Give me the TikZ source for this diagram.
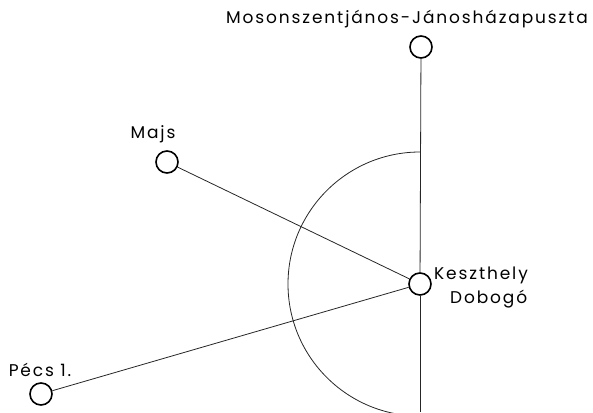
\documentclass[tikz,border=0pt]{standalone}
\usepackage{fontspec}
\setmainfont{Poppins}[LetterSpace=11]
\usetikzlibrary{positioning}
\tikzset{
  allomas/.style={circle, draw, line width=1.6pt, minimum size=22pt, inner sep=0pt},
  felirat/.style={font=\fontsize{17}{24}\selectfont, inner sep=1pt},
  vonal/.style={line width=0.8pt, black!85}
}
\begin{document}
\begin{tikzpicture}[x=1pt,y=-1pt]
\useasboundingbox (0,0) rectangle (593,412);

% Allomasok
\node[allomas] (kesz) at (420,284) {};
\node[allomas] (moson) at (421,47) {};
\node[allomas] (majs) at (167,162) {};
\node[allomas] (pecs) at (41,394) {};
\coordinate (also) at (420,412);

% Feliratok
\node[felirat] (mosonf) at (407,19) {Mosonszentjános-Jánosházapuszta};
\node[felirat] (majsf) at (153,134) {Majs};
\node[felirat] (pecsf) at (40,370) {Pécs 1.};
\node[felirat, align=left, anchor=west] (keszf) at (433,287) {Keszthely\\\hspace*{16pt}Dobogó};

% Vonalak
\draw[vonal] (moson) -- (kesz);
\draw[vonal] (kesz) -- (also);
\draw[vonal] (majs) -- (kesz);
\draw[vonal] (pecs) -- (kesz);

% Felkor
\draw[vonal] (kesz) ++(0,-132) arc[start angle=-90, end angle=-270, radius=132];
\end{tikzpicture}
\end{document}
